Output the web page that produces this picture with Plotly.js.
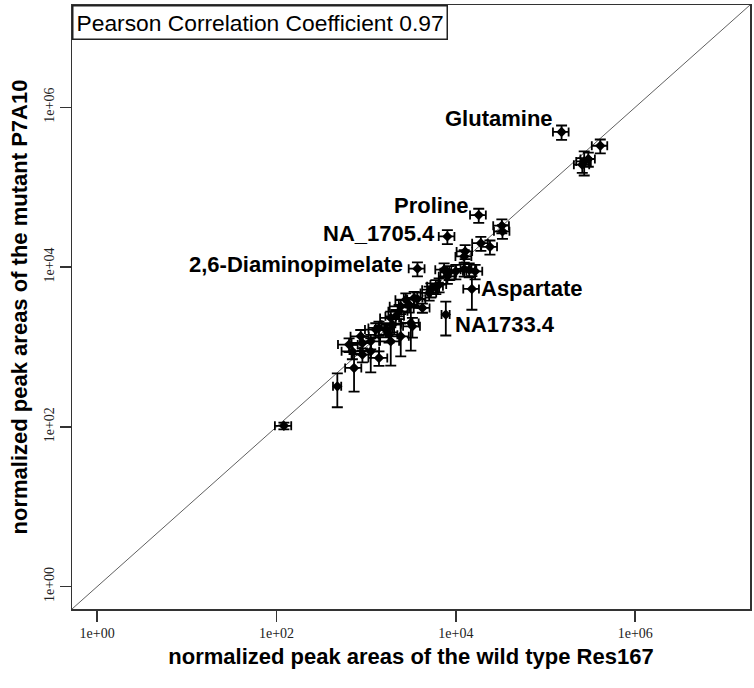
<!DOCTYPE html>
<html>
<head>
<meta charset="utf-8">
<script src="https://cdn.plot.ly/plotly-3.0.1.min.js"></script>
<style>html,body{margin:0;padding:0;background:#fff;}#chart{width:754px;height:688px;}</style>
</head>
<body>
<div id="chart"></div>
<script>
// Normalized peak areas: wild type Res167 (x) vs mutant P7A10 (y), mean and SD
const wtMean  = [151000, 408000, 270000, 257000, 300000, 18000, 32600, 33100, 8050, 19000,
                 24000, 12700, 12400, 3730, 7400, 8420, 10000, 12400, 14100, 8050,
                 15100, 5260, 5980, 6510, 5040, 3430, 3010, 2430, 2330, 4240,
                 7730, 3150, 3280, 1880, 1960, 1650, 1390, 1280, 2430, 1880,
                 1800, 1125, 908, 645, 702, 1125, 1390, 908, 733, 477,
                 121, 2140, 2770, 3720, 870, 16400];
const mutMean = [491000, 330000, 210000, 191000, 225000, 44700, 33000, 28000, 24200, 19900,
                 17900, 15700, 13600, 9550, 9270, 8590, 8830, 9470, 9270, 7650,
                 5320, 5210, 5730, 6030, 4740, 4100, 3390, 3220, 2790, 3080,
                 2540, 2000, 1810, 2310, 1900, 1650, 1730, 1650, 1360, 1175,
                 1425, 1175, 1120, 1070, 881, 881, 728, 801, 546, 321,
                 103, 2420, 3910, 3980, 1360, 8830];
const wtSd    = [30000, 80000, 50000, 50000, 55000, 3600, 6500, 6500, 1600, 3800,
                 4800, 2500, 2500, 750, 1500, 1700, 2000, 2500, 2800, 1600,
                 3000, 1050, 1200, 1300, 1000, 800, 700, 600, 560, 850,
                 800, 700, 700, 450, 470, 400, 330, 310, 560, 450,
                 430, 270, 220, 160, 170, 270, 330, 220, 150, 50,
                 25, 500, 650, 850, 200, 3300];
const mutSd   = [100000, 65000, 70000, 40000, 45000, 9000, 6500, 5500, 4800, 4000,
                 3600, 3100, 2700, 1900, 1850, 1700, 1800, 1900, 1850, 1500,
                 2400, 1050, 1150, 1200, 950, 800, 700, 650, 560, 400,
                 1150, 1100, 500, 460, 380, 330, 350, 330, 600, 590,
                 290, 240, 220, 210, 180, 400, 150, 160, 270, 145,
                 10, 480, 780, 800, 270, 1800];
// Labelled metabolites (index into the arrays above)
const labelNames = ["Glutamine", "Proline", "NA_1705.4", "2,6-Diaminopimelate", "Aspartate", "NA1733.4"];
const labelIndex = [0, 5, 8, 13, 20, 30];
const pearsonText = "Pearson Correlation Coefficient 0.97";
const tickVals = [1, 100, 10000, 1000000];
const tickText = ["1e+00", "1e+02", "1e+04", "1e+06"];

// label placement (pixels)
const labelStyle = [
  {xanchor: "right", xs: -7, ys: 13},
  {xanchor: "right", xs: -8, ys: 10},
  {xanchor: "right", xs: -10, ys: 3},
  {xanchor: "right", xs: -12, ys: 4},
  {xanchor: "left", xs: 7, ys: 0},
  {xanchor: "left", xs: 7, ys: -10}
];

const diag = {
  x: [0.01, 1e9], y: [0.01, 1e9], mode: "lines", type: "scatter",
  line: {color: "#606060", width: 1}, hoverinfo: "skip", showlegend: false
};
const pts = {
  x: wtMean, y: mutMean, mode: "markers", type: "scatter", showlegend: false,
  marker: {symbol: "diamond", size: 8, color: "#000"},
  error_x: {type: "data", array: wtSd, symmetric: true, color: "#000", thickness: 1.8, width: 4.5},
  error_y: {type: "data", array: mutSd, symmetric: true, color: "#000", thickness: 1.8, width: 5.5},
  cliponaxis: false
};

const annotations = labelNames.map((t, k) => {
  const i = labelIndex[k];
  const s = labelStyle[k];
  return {
    x: Math.log10(wtMean[i]), y: Math.log10(mutMean[i]), xref: "x", yref: "y",
    text: t, showarrow: false, xanchor: s.xanchor, yanchor: "middle",
    xshift: s.xs, yshift: s.ys,
    font: {family: "Liberation Sans, Arial, sans-serif", size: 22, color: "#000", weight: "bold"}
  };
});
annotations.push({
  x: 0, y: 1, xref: "paper", yref: "paper", xanchor: "left", yanchor: "top",
  text: pearsonText, showarrow: false, align: "left",
  bordercolor: "#222", borderwidth: 1.5, borderpad: 3, bgcolor: "#fff",
  font: {family: "Liberation Sans, Arial, sans-serif", size: 22.8, color: "#000"}
});

const axisCommon = {
  type: "log", range: [-0.28, 7.28],
  tickvals: tickVals, ticktext: tickText,
  ticks: "outside", ticklen: 11, tickwidth: 1.5, tickcolor: "#333",
  showline: true, linecolor: "#333", linewidth: 1.5, mirror: true,
  showgrid: false, zeroline: false,
  tickfont: {family: "Liberation Serif, Times New Roman, serif", size: 14, color: "#222"}
};

const layout = {
  width: 754, height: 688,
  margin: {l: 72, r: 4, t: 5, b: 79},
  paper_bgcolor: "#fff", plot_bgcolor: "#fff",
  xaxis: Object.assign({}, axisCommon, {
    title: {text: "normalized peak areas of the wild type Res167", standoff: 8,
      font: {family: "Liberation Sans, Arial, sans-serif", size: 22, color: "#000", weight: "bold"}}
  }),
  yaxis: Object.assign({}, axisCommon, {
    tickangle: -90,
    title: {text: "normalized peak areas of the mutant P7A10", standoff: 8,
      font: {family: "Liberation Sans, Arial, sans-serif", size: 22, color: "#000", weight: "bold"}}
  }),
  annotations: annotations
};

Plotly.newPlot("chart", [diag, pts], layout, {displayModeBar: false, staticPlot: true});
</script>
</body>
</html>
